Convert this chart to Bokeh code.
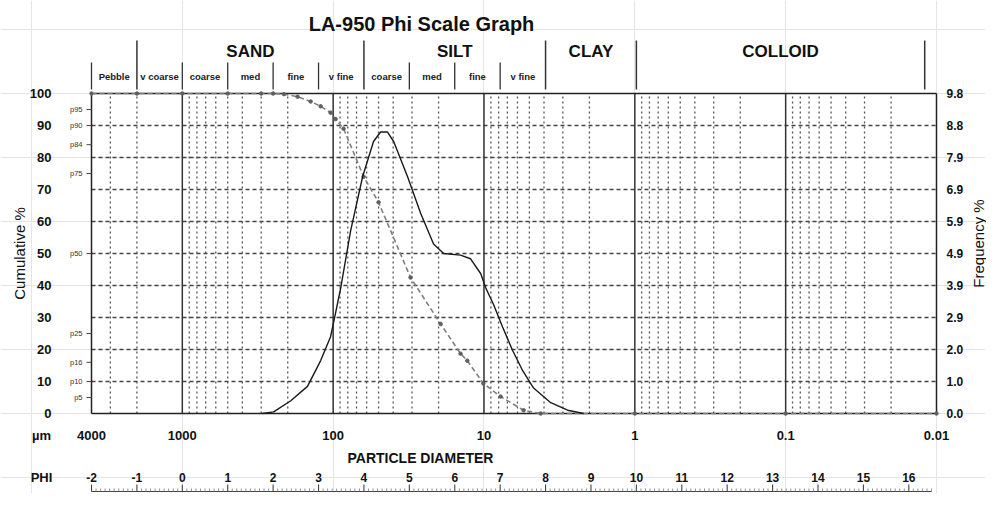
import math
from bokeh.plotting import figure
from bokeh.models import Range1d
from bokeh.core.properties import value
from bokeh.embed import file_html
from bokeh.resources import INLINE

# ---------------- data ----------------
chart_title = "LA-950 Phi Scale Graph"

# cumulative % (undersize) vs particle diameter (um)
cum_size_um = [4000, 2000, 1000, 500, 300, 250, 212, 172, 141, 121, 104, 96.4,
               85.3, 62.8, 50.0, 30.7, 19.4, 14.3, 12.9, 10.1, 7.76, 5.46,
               4.21, 1.0, 0.1, 0.01]
cum_pct = [100, 100, 100, 100, 100, 100, 99.8, 99.0, 97.5, 96.0, 94.0, 92.0,
           89.0, 74.0, 66.0, 42.5, 28.0, 18.7, 16.5, 9.4, 5.3, 1.0,
           0.0, 0.0, 0.0, 0.0]

# frequency % vs particle diameter (um)
freq_size_um = [294, 248, 191, 148, 121, 104, 99.3, 89.3, 76.6, 63.8, 54.0,
                48.5, 43.6, 39.7, 32.1, 26.3, 21.6, 18.5, 14.3, 12.3, 10.5,
                9.76, 8.63, 7.53, 6.46, 5.54, 4.69, 3.61, 2.79, 2.18]
freq_pct = [0.0, 0.05, 0.39, 0.83, 1.62, 2.35, 2.79, 3.82, 5.59, 7.25, 8.33,
            8.62, 8.62, 8.33, 7.25, 6.13, 5.19, 4.90, 4.85, 4.74, 4.28,
            3.86, 3.33, 2.65, 1.93, 1.31, 0.78, 0.33, 0.10, 0.0]

left_tick_values = [0, 10, 20, 30, 40, 50, 60, 70, 80, 90, 100]
left_tick_labels = ["0", "10", "20", "30", "40", "50", "60", "70", "80", "90", "100"]
right_tick_labels = ["0.0", "1.0", "2.0", "2.9", "3.9", "4.9", "5.9", "6.9", "7.9", "8.8", "9.8"]
freq_axis_max = 9.8

percentile_values = [95, 90, 84, 75, 50, 25, 16, 10, 5]
percentile_labels = ["p95", "p90", "p84", "p75", "p50", "p25", "p16", "p10", "p5"]

um_tick_values = [4000, 1000, 100, 10, 1, 0.1, 0.01]
um_tick_labels = ["4000", "1000", "100", "10", "1", "0.1", "0.01"]

phi_ticks = list(range(-2, 17))
phi_ruler_end = 16.5

sub_names = ["Pebble", "v coarse", "coarse", "med", "fine", "v fine",
             "coarse", "med", "fine", "v fine"]
sub_edges_phi = [-2, -1, 0, 1, 2, 3, 4, 5, 6, 7, 8]
cat_names = ["SAND", "SILT", "CLAY", "COLLOID"]
cat_edges_phi = [-1, 4, 8, 10, 16.35]

decade_lines_um = [1000, 100, 10, 1, 0.1]
minor_lines_um = [3000, 2000] + [m * 10.0 ** k for k in (2, 1, 0, -1, -2) for m in range(9, 1, -1)]
hgrid_values = [10, 20, 30, 40, 50, 60, 70, 80, 90]

# ---------------- geometry ----------------
W, H = 986, 493
M = 0  # picture origin = canvas origin
IMG_L, IMG_R, IMG_T, IMG_B = 91, 936, 93, 413
X_MAX, X_MIN = 4000.0, 0.01
dec = (IMG_R - IMG_L) / (math.log10(X_MAX) - math.log10(X_MIN))
ppu = (IMG_B - IMG_T) / 100.0

x_start = 10 ** (math.log10(X_MAX) + (IMG_L - M) / dec)
x_end = 10 ** (math.log10(X_MIN) - (M + W - IMG_R) / dec)
y_start = 0 - (M + H - IMG_B) / ppu
y_end = 100 + (IMG_T - M) / ppu


def px_x(px):
    return 10 ** (math.log10(X_MAX) - (px - IMG_L) / dec)


def px_y(py):
    return 100 + (IMG_T - py) / ppu


def phi_to_um(phi):
    return 1000.0 * 2.0 ** (-phi)


FONT = value("Liberation Sans")

p = figure(width=W, height=H, x_axis_type="log",
           x_range=Range1d(x_start, x_end), y_range=Range1d(y_start, y_end),
           toolbar_location=None, output_backend="svg", min_border=0,
           x_axis_location=None, y_axis_location=None, title=None,
           outline_line_color=None, background_fill_color="white",
           border_fill_color="white")
p.extra_y_ranges = {"freq": Range1d(y_start * freq_axis_max / 100, y_end * freq_axis_max / 100)}

# ---------------- grid ----------------
p.segment(x0=[X_MAX] * len(hgrid_values), x1=[X_MIN] * len(hgrid_values),
          y0=hgrid_values, y1=hgrid_values, line_color="#444444",
          line_width=1.3, line_dash="4 3")
p.segment(x0=minor_lines_um, x1=minor_lines_um, y0=[0] * len(minor_lines_um),
          y1=[100] * len(minor_lines_um), line_color="#555555", line_width=1.3,
          line_dash="2 3")
p.segment(x0=decade_lines_um, x1=decade_lines_um, y0=[0] * len(decade_lines_um),
          y1=[100] * len(decade_lines_um), line_color="#333333", line_width=1.5)

# frame
p.segment(x0=[X_MAX, X_MAX, X_MAX, X_MIN], x1=[X_MIN, X_MIN, X_MAX, X_MIN],
          y0=[0, 100, 0, 0], y1=[0, 100, 100, 100], line_color="#222222",
          line_width=1.5)

# ---------------- curves ----------------
p.line(cum_size_um, cum_pct, line_color="#808080", line_width=1.6, line_dash="5 3")
p.scatter(cum_size_um, cum_pct, marker="circle", size=3.5, color="#606060")
p.line(freq_size_um, freq_pct, line_color="#1a1a1a", line_width=1.4,
       y_range_name="freq")

# ---------------- header ----------------
p.text(x=[px_x(421)], y=[px_y(23)], text=[chart_title], text_font=FONT,
       text_font_style="bold", text_font_size="20px", text_align="center",
       text_baseline="middle", text_color="#111111")

tall = cat_edges_phi
short = [e for e in sub_edges_phi if e not in tall]
p.segment(x0=[phi_to_um(e) for e in tall], x1=[phi_to_um(e) for e in tall],
          y0=[px_y(89)] * len(tall), y1=[px_y(40)] * len(tall),
          line_color="#333333", line_width=1.5)
p.segment(x0=[phi_to_um(e) for e in short], x1=[phi_to_um(e) for e in short],
          y0=[px_y(89)] * len(short), y1=[px_y(62)] * len(short),
          line_color="#333333", line_width=1.3)

cat_x = [phi_to_um((cat_edges_phi[i] + cat_edges_phi[i + 1]) / 2) for i in range(len(cat_names))]
p.text(x=cat_x, y=[px_y(50.5)] * len(cat_names), text=cat_names, text_font=FONT,
       text_font_style="bold", text_font_size="17px", text_align="center",
       text_baseline="middle", text_color="#111111")
sub_x = [phi_to_um((sub_edges_phi[i] + sub_edges_phi[i + 1]) / 2) for i in range(len(sub_names))]
p.text(x=sub_x, y=[px_y(76)] * len(sub_names), text=sub_names, text_font=FONT,
       text_font_style="bold", text_font_size="9.5px", text_align="center",
       text_baseline="middle", text_color="#222222")

# ---------------- left side ----------------
p.text(x=[px_x(51)] * len(left_tick_values), y=left_tick_values, text=left_tick_labels,
       text_font=FONT, text_font_style="bold", text_font_size="13px",
       text_align="right", text_baseline="middle", text_color="#111111")
p.text(x=[px_x(19)], y=[px_y(253)], text=["Cumulative %"], angle=math.pi / 2,
       text_font=FONT, text_font_size="15px", text_align="center",
       text_baseline="middle", text_color="#111111")
p.text(x=[px_x(82)] * len(percentile_values), y=percentile_values, text=percentile_labels,
       text_font=FONT, text_font_size="7.5px", text_align="right",
       text_baseline="middle", text_color="#333333")
p.segment(x0=[px_x(86)] * len(percentile_values), x1=[X_MAX] * len(percentile_values),
          y0=percentile_values, y1=percentile_values, line_color="#444444", line_width=1)

# ---------------- right side ----------------
p.text(x=[px_x(946)] * len(left_tick_values), y=left_tick_values, text=right_tick_labels,
       text_font=FONT, text_font_style="bold", text_font_size="12px",
       text_align="left", text_baseline="middle", text_color="#111111")
p.text(x=[px_x(978)], y=[px_y(243)], text=["Frequency %"], angle=math.pi / 2,
       text_font=FONT, text_font_size="15px", text_align="center",
       text_baseline="middle", text_color="#111111")

# ---------------- bottom ----------------
p.text(x=um_tick_values, y=[px_y(435)] * len(um_tick_values), text=um_tick_labels,
       text_font=FONT, text_font_style="bold", text_font_size="13px",
       text_align="center", text_baseline="middle", text_color="#111111")
p.text(x=[px_x(41)], y=[px_y(435)], text=["µm"], text_font=FONT,
       text_font_style="bold", text_font_size="13px", text_align="center",
       text_baseline="middle", text_color="#111111")
p.text(x=[px_x(420)], y=[px_y(457)], text=["PARTICLE DIAMETER"], text_font=FONT,
       text_font_style="bold", text_font_size="14px", text_align="center",
       text_baseline="middle", text_color="#111111")
p.text(x=[px_x(41)], y=[px_y(477)], text=["PHI"], text_font=FONT,
       text_font_style="bold", text_font_size="13px", text_align="center",
       text_baseline="middle", text_color="#111111")
p.text(x=[phi_to_um(v) for v in phi_ticks], y=[px_y(477)] * len(phi_ticks),
       text=[str(v) for v in phi_ticks], text_font=FONT, text_font_style="bold",
       text_font_size="12px", text_align="center", text_baseline="middle",
       text_color="#111111")

# phi ruler
p.segment(x0=[phi_to_um(phi_ticks[0])], x1=[phi_to_um(phi_ruler_end)],
          y0=[px_y(491)], y1=[px_y(491)], line_color="#444444", line_width=1)
p.segment(x0=[phi_to_um(v) for v in phi_ticks], x1=[phi_to_um(v) for v in phi_ticks],
          y0=[px_y(491)] * len(phi_ticks), y1=[px_y(484)] * len(phi_ticks),
          line_color="#444444", line_width=1.1)
n_minor = int(round((phi_ruler_end - phi_ticks[0]) * 10))
minor_phi = [phi_ticks[0] + i / 10 for i in range(n_minor + 1) if i % 10 != 0]
p.segment(x0=[phi_to_um(v) for v in minor_phi], x1=[phi_to_um(v) for v in minor_phi],
          y0=[px_y(491)] * len(minor_phi), y1=[px_y(488)] * len(minor_phi),
          line_color="#777777", line_width=0.8)

open("out.html", "w").write(file_html(p, INLINE))
